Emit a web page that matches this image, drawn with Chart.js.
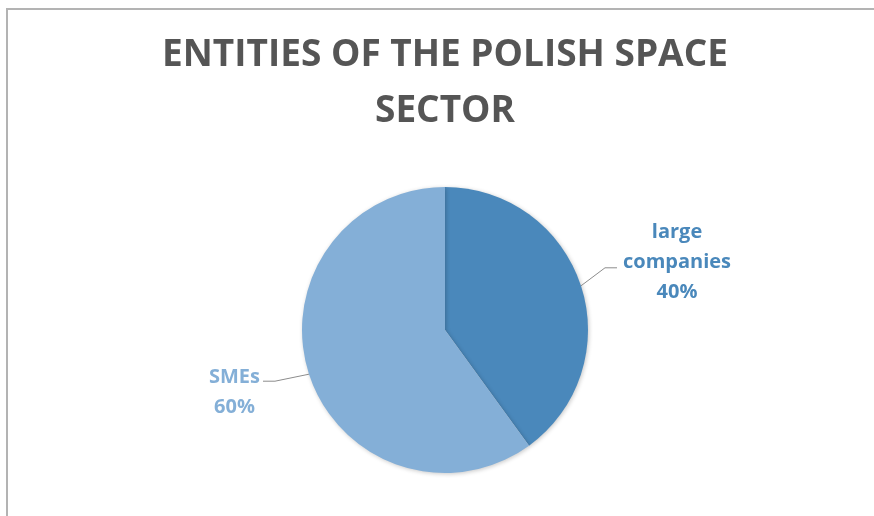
<!DOCTYPE html>
<html>
<head>
<meta charset="utf-8">
<title>Entities of the Polish space sector</title>
<script src="https://cdn.jsdelivr.net/npm/chart.js@4"></script>
<style>
    html, body {
        margin: 0;
        padding: 0;
        background: #ffffff;
    }
    .frame {
        position: absolute;
        left: 6px;
        top: 8px;
        width: 880px;
        height: 520px;
        border-top: 2px solid #b3b3b3;
        border-left: 2px solid #b3b3b3;
    }
    .chart-box {
        position: absolute;
        left: 0;
        top: 0;
        width: 874px;
        height: 516px;
    }
</style>
</head>
<body>
<div class="frame"></div>
<div class="chart-box">
    <canvas id="sectorChart" width="874" height="516"></canvas>
</div>
<script>
const categories = ["large companies", "SMEs"];
const shares = [40, 60];
const sliceColors = ["#4a88bb", "#84afd7"];

// leader line + multi-line label for each slice
const sliceLabels = {
    id: "sliceLabels",
    afterDatasetsDraw(chart, args, opts) {
        const ctx = chart.ctx;
        const arcs = chart.getDatasetMeta(0).data;
        arcs.forEach((arc, i) => {
            const p = arc.getProps(["x", "y", "startAngle", "endAngle", "outerRadius"], true);
            const mid = (p.startAngle + p.endAngle) / 2;
            const ex = p.x + Math.cos(mid) * p.outerRadius;
            const ey = p.y + Math.sin(mid) * p.outerRadius;
            const cfg = opts.items[i];
            const bx = ex + cfg.elbow[0];
            const by = ey + cfg.elbow[1];
            const tx = bx + cfg.run;

            ctx.save();
            ctx.strokeStyle = "#8c8c8c";
            ctx.lineWidth = 1;
            ctx.beginPath();
            ctx.moveTo(ex, ey);
            ctx.lineTo(bx, by);
            ctx.lineTo(tx, by);
            ctx.stroke();

            const lines = categories[i].split(" ").concat([shares[i] + "%"]);
            ctx.font = "bold 20px 'Open Sans'";
            ctx.fillStyle = sliceColors[i];
            ctx.textAlign = "center";
            ctx.textBaseline = "alphabetic";
            const w = Math.max(...lines.map(l => ctx.measureText(l).width));
            const cx = cfg.run > 0 ? tx + 6 + w / 2 : tx - 3 - w / 2;
            lines.forEach((l, k) => {
                ctx.fillText(l, cx, by + cfg.firstBaseline + k * 30);
            });
            ctx.restore();
        });
    }
};

// soft drop shadow under the pie
const pieShadow = {
    id: "pieShadow",
    beforeDatasetsDraw(chart) {
        const ctx = chart.ctx;
        ctx.save();
        ctx.shadowColor = "rgba(0, 0, 0, 0.22)";
        ctx.shadowBlur = 4;
        ctx.shadowOffsetX = 1;
        ctx.shadowOffsetY = 1;
    },
    afterDatasetsDraw(chart) {
        chart.ctx.restore();
    }
};

Chart.defaults.font.family = "'Open Sans', sans-serif";

new Chart(document.getElementById("sectorChart"), {
    type: "pie",
    data: {
        labels: categories,
        datasets: [{
            data: shares,
            backgroundColor: sliceColors,
            borderWidth: 0,
            hoverOffset: 0
        }]
    },
    options: {
        responsive: false,
        animation: false,
        layout: {
            padding: { top: 0, left: 16, right: 0, bottom: 43 }
        },
        plugins: {
            legend: { display: false },
            tooltip: { enabled: false },
            title: {
                display: true,
                text: ["ENTITIES OF THE POLISH SPACE", "SECTOR"],
                color: "#555555",
                font: { size: 37, weight: "bold", lineHeight: 56 / 37 },
                padding: { top: 27, bottom: 48 }
            },
            sliceLabels: {
                items: [
                    { elbow: [24, -18], run: 12, firstBaseline: -30 },
                    { elbow: [-34, 7], run: -12, firstBaseline: 2 }
                ]
            }
        }
    },
    plugins: [pieShadow, sliceLabels]
});
</script>
</body>
</html>
